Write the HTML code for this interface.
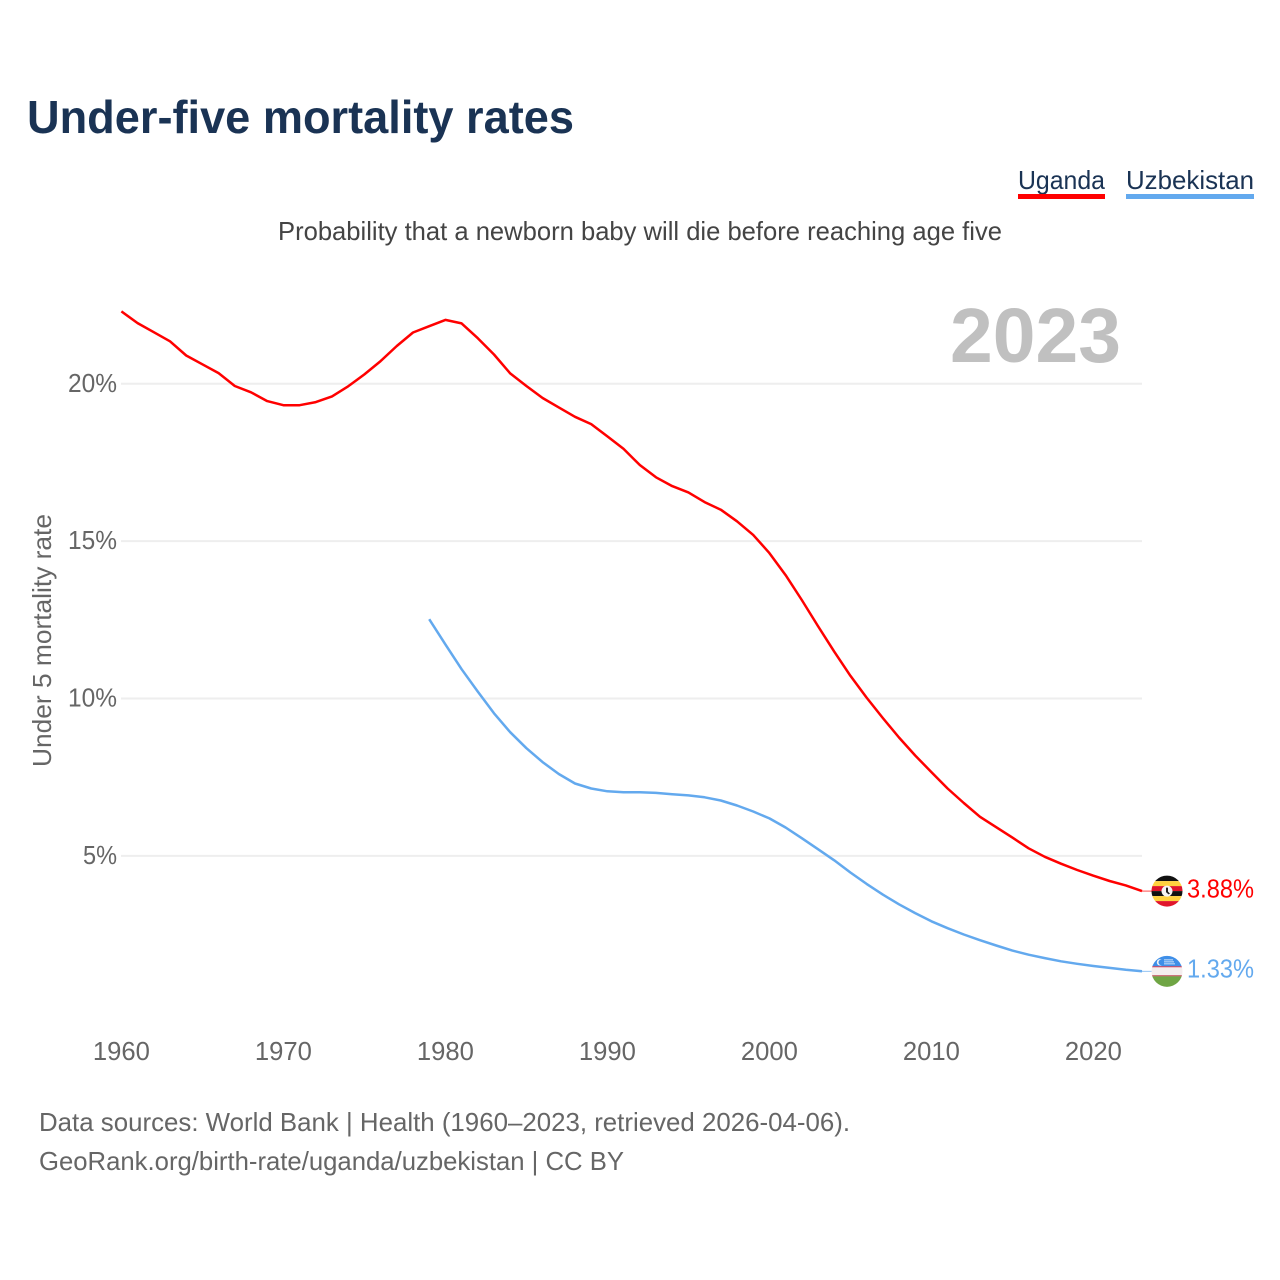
<!DOCTYPE html>
<html lang="en">
<head>
<meta charset="utf-8">
<title>Under-five mortality rates</title>
<style>
html,body{margin:0;padding:0;background:#fff;width:1280px;height:1280px;overflow:hidden}
svg{display:block}
text{font-family:"Liberation Sans",sans-serif}
</style>
</head>
<body>
<svg id="chart" width="1280" height="1280" viewBox="0 0 1280 1280" xmlns="http://www.w3.org/2000/svg">
  <defs>
    <clipPath id="clip-ug"><circle cx="15" cy="15" r="15.5"/></clipPath>
    <clipPath id="clip-uz"><circle cx="15" cy="15" r="15.5"/></clipPath>
  </defs>
  <text x="27" y="133" font-size="46" font-weight="700" fill="#1a3354" textLength="547" lengthAdjust="spacingAndGlyphs">Under-five mortality rates</text>
  <g>
    <text x="1018" y="189" font-size="26" fill="#1a3354" textLength="87" lengthAdjust="spacingAndGlyphs">Uganda</text>
    <rect x="1018" y="194" width="87" height="5" fill="#ff0000"/>
  </g>
  <g>
    <text x="1126" y="189" font-size="26" fill="#1a3354" textLength="128" lengthAdjust="spacingAndGlyphs">Uzbekistan</text>
    <rect x="1126" y="194" width="128" height="5" fill="#63a9ee"/>
  </g>
  <text x="278" y="240" font-size="26" fill="#444444" textLength="724" lengthAdjust="spacingAndGlyphs">Probability that a newborn baby will die before reaching age five</text>
  <text transform="translate(51,767) rotate(-90)" x="0" y="0" font-size="26" fill="#666666" textLength="253" lengthAdjust="spacingAndGlyphs">Under 5 mortality rate</text>
  <g id="grid"></g>
  <text x="950" y="362" font-size="77" font-weight="700" fill="#c0c0c0" textLength="171" lengthAdjust="spacingAndGlyphs">2023</text>
  <g id="xticks"></g>
  <g id="yticks"></g>
  <g id="series"></g>
  <g id="flag-ug" clip-path="url(#clip-ug)">
    <rect x="-1" y="-1" width="32" height="6" fill="#111111"/>
    <rect x="-1" y="5" width="32" height="5" fill="#ffd23f"/>
    <rect x="-1" y="10" width="32" height="5" fill="#e0162b"/>
    <rect x="-1" y="15" width="32" height="5" fill="#111111"/>
    <rect x="-1" y="20" width="32" height="5" fill="#ffd23f"/>
    <rect x="-1" y="25" width="32" height="6" fill="#e0162b"/>
    <circle cx="15" cy="15" r="5.5" fill="#f5f5f5"/>
    <path d="M14 11.5h2v4l2 2-1.5.8-2.5-2.3z" fill="#222222"/>
  </g>
  <g id="flag-uz" clip-path="url(#clip-uz)">
    <rect x="-1" y="-1" width="32" height="11" fill="#3f8fe8"/>
    <rect x="-1" y="10" width="32" height="1" fill="#d8283c"/>
    <rect x="-1" y="11" width="32" height="8" fill="#f4eeee"/>
    <rect x="-1" y="19" width="32" height="1" fill="#b5303c"/>
    <rect x="-1" y="20" width="32" height="11" fill="#6fa544"/>
    <circle cx="8" cy="6" r="3.2" fill="#f4f4f4"/>
    <circle cx="9.3" cy="6" r="2.8" fill="#3f8fe8"/>
    <rect x="12" y="3" width="9" height="1" fill="#cfe2f8"/>
    <rect x="12" y="5" width="10" height="1" fill="#cfe2f8"/>
    <rect x="12" y="7" width="11" height="1" fill="#cfe2f8"/>
  </g>
  <text id="label-ug" x="1187" y="898" font-size="26" fill="#ff0000" textLength="67" lengthAdjust="spacingAndGlyphs"></text>
  <text id="label-uz" x="1187" y="978" font-size="26" fill="#63a9ee" textLength="67" lengthAdjust="spacingAndGlyphs"></text>
  <text x="39" y="1131" font-size="26" fill="#666666" textLength="811" lengthAdjust="spacingAndGlyphs">Data sources: World Bank | Health (1960–2023, retrieved 2026-04-06).</text>
  <text x="39" y="1170" font-size="26" fill="#666666" textLength="585" lengthAdjust="spacingAndGlyphs">GeoRank.org/birth-rate/uganda/uzbekistan | CC BY</text>
</svg>
<script>
const xTickYears = [1960, 1970, 1980, 1990, 2000, 2010, 2020];
const yTickValues = [5, 10, 15, 20];
const ugandaStartYear = 1960;
const uzbekistanStartYear = 1979;
const ugandaValues = [
  22.30, 21.93, 21.64, 21.35, 20.90, 20.62, 20.34, 19.93, 19.73, 19.45,
  19.32, 19.32, 19.42, 19.60, 19.92, 20.30, 20.72, 21.20, 21.63, 21.83,
  22.03, 21.92, 21.45, 20.93, 20.33, 19.93, 19.55, 19.25, 18.95, 18.72,
  18.33, 17.93, 17.42, 17.03, 16.75, 16.55, 16.24, 16.00, 15.63, 15.20,
  14.62, 13.92, 13.13, 12.30, 11.49, 10.72, 10.03, 9.38, 8.76, 8.19,
  7.66, 7.14, 6.68, 6.24, 5.91, 5.58, 5.24, 4.97, 4.75, 4.55,
  4.37, 4.20, 4.06, 3.88
];
const uzbekistanValues = [
  12.52, 11.72, 10.93, 10.22, 9.53, 8.93, 8.42, 7.98, 7.60, 7.30,
  7.14, 7.05, 7.02, 7.02, 7.00, 6.96, 6.92, 6.86, 6.76, 6.60,
  6.41, 6.19, 5.90, 5.56, 5.21, 4.86, 4.47, 4.11, 3.77, 3.46,
  3.18, 2.92, 2.70, 2.50, 2.32, 2.15, 1.99, 1.86, 1.75, 1.65,
  1.57, 1.50, 1.44, 1.38, 1.33
];

const NS = 'http://www.w3.org/2000/svg';
function xScale(year) { return 121.4 + (year - 1960) * 16.2; }
function yScale(value) { return 1013.2 - value * 31.47; }
function make(tag, parent, attrs) {
  const el = document.createElementNS(NS, tag);
  for (const k in attrs) el.setAttribute(k, attrs[k]);
  parent.appendChild(el);
  return el;
}

const grid = document.getElementById('grid');
const yTicks = document.getElementById('yticks');
yTickValues.forEach(function (v) {
  const line = make('line', grid, { x1: 121, x2: 1142, y1: yScale(v), y2: yScale(v), stroke: '#eeeeee', 'stroke-width': 2 });
  
  
  const t = make('text', yTicks, { x: 117, y: yScale(v) + 8, 'font-size': 26, fill: '#666666', 'text-anchor': 'end', textLength: v < 10 ? 34 : 49, lengthAdjust: 'spacingAndGlyphs' });
  t.textContent = v + '%';
  
  
});

const xTicks = document.getElementById('xticks');
xTickYears.forEach(function (yr) {
  const t = make('text', xTicks, { x: xScale(yr), y: 1060, 'font-size': 26, fill: '#666666', 'text-anchor': 'middle', textLength: 57, lengthAdjust: 'spacingAndGlyphs' });
  t.textContent = String(yr);
  
  
});

function pathFor(values, startYear) {
  return values.map(function (v, i) {
    return (i ? 'L' : 'M') + xScale(startYear + i).toFixed(1) + ' ' + yScale(v).toFixed(1);
  }).join(' ');
}

const series = document.getElementById('series');
const ugLine = make('path', series, { d: pathFor(ugandaValues, ugandaStartYear), fill: 'none', stroke: '#ff0000', 'stroke-width': 2.5, 'stroke-linejoin': 'round' });


const uzLine = make('path', series, { d: pathFor(uzbekistanValues, uzbekistanStartYear), fill: 'none', stroke: '#63a9ee', 'stroke-width': 2.5, 'stroke-linejoin': 'round' });



const ugLast = ugandaValues[ugandaValues.length - 1];
const uzLast = uzbekistanValues[uzbekistanValues.length - 1];
const ugY = yScale(ugLast);
const uzY = yScale(uzLast);
const ugConn = make('line', series, { x1: xScale(2023), x2: 1153, y1: ugY, y2: ugY, stroke: '#ff0000', 'stroke-width': 1, opacity: 0.7 });


const uzConn = make('line', series, { x1: xScale(2023), x2: 1153, y1: uzY, y2: uzY, stroke: '#63a9ee', 'stroke-width': 1, opacity: 0.7 });



document.getElementById('flag-ug').setAttribute('transform', 'translate(1152,' + (ugY - 15) + ')');
document.getElementById('flag-uz').setAttribute('transform', 'translate(1152,' + (uzY - 15) + ')');
const ugLabel = document.getElementById('label-ug');
ugLabel.textContent = ugLast.toFixed(2) + '%';
ugLabel.setAttribute('y', ugY + 6.5);
const uzLabel = document.getElementById('label-uz');
uzLabel.textContent = uzLast.toFixed(2) + '%';
uzLabel.setAttribute('y', uzY + 6);
</script>
</body>
</html>
